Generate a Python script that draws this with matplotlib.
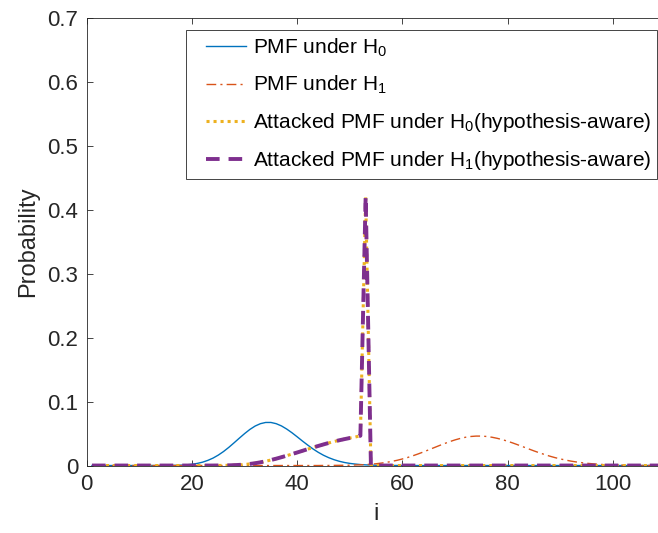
from matplotlib import pyplot as plt
from matplotlib.legend_handler import HandlerLine2D

# i = 1 .. 110
i_vals = list(range(1, 111))

pmf_h0 = [
    0, 0, 0, 0, 0, 0, 0, 0, 0, 0,
    0, 0, 0, 0, 0.0001, 0.0002, 0.0003, 0.0006, 0.0011, 0.0020,
    0.0033, 0.0052, 0.0080, 0.0116, 0.0163, 0.0219, 0.0284, 0.0355, 0.0428, 0.0499,
    0.0564, 0.0617, 0.0654, 0.0673, 0.0673, 0.0654, 0.0619, 0.0570, 0.0512, 0.0448,
    0.0382, 0.0319, 0.0259, 0.0206, 0.0160, 0.0122, 0.0091, 0.0066, 0.0047, 0.0033,
    0.0023, 0.0015, 0.0010, 0.0007, 0.0004, 0.0003, 0.0002, 0.0001, 0.0001, 0,
    0, 0, 0, 0, 0, 0, 0, 0, 0, 0,
    0, 0, 0, 0, 0, 0, 0, 0, 0, 0,
    0, 0, 0, 0, 0, 0, 0, 0, 0, 0,
    0, 0, 0, 0, 0, 0, 0, 0, 0, 0,
    0, 0, 0, 0, 0, 0, 0, 0, 0, 0,
]

pmf_h1 = [
    0, 0, 0, 0, 0, 0, 0, 0, 0, 0,
    0, 0, 0, 0, 0, 0, 0, 0, 0, 0,
    0, 0, 0, 0, 0, 0, 0, 0, 0, 0,
    0, 0, 0, 0, 0, 0, 0, 0, 0, 0,
    0, 0, 0, 0, 0.0001, 0.0001, 0.0002, 0.0003, 0.0004, 0.0005,
    0.0008, 0.0011, 0.0015, 0.0021, 0.0028, 0.0038, 0.0050, 0.0065, 0.0082, 0.0103,
    0.0126, 0.0153, 0.0182, 0.0213, 0.0246, 0.0279, 0.0312, 0.0344, 0.0374, 0.0401,
    0.0424, 0.0442, 0.0454, 0.0460, 0.0460, 0.0454, 0.0442, 0.0425, 0.0404, 0.0379,
    0.0351, 0.0321, 0.0290, 0.0259, 0.0228, 0.0199, 0.0172, 0.0146, 0.0123, 0.0103,
    0.0085, 0.0069, 0.0056, 0.0045, 0.0035, 0.0028, 0.0021, 0.0016, 0.0012, 0.0009,
    0.0007, 0.0005, 0.0004, 0.0003, 0.0002, 0.0001, 0.0001, 0.0001, 0, 0,
]

attacked_h0 = [
    0, 0, 0, 0, 0, 0, 0, 0, 0, 0,
    0, 0, 0, 0, 0, 0, 0, 0, 0, 0,
    0, 0, 0, 0, 0.0001, 0.0002, 0.0003, 0.0006, 0.0010, 0.0016,
    0.0025, 0.0036, 0.0050, 0.0067, 0.0086, 0.0107, 0.0130, 0.0154, 0.0179, 0.0204,
    0.0230, 0.0256, 0.0281, 0.0306, 0.0330, 0.0353, 0.0375, 0.0395, 0.0413, 0.0430,
    0.0445, 0.0465, 0.4210, 0, 0, 0, 0, 0, 0, 0,
    0, 0, 0, 0, 0, 0, 0, 0, 0, 0,
    0, 0, 0, 0, 0, 0, 0, 0, 0, 0,
    0, 0, 0, 0, 0, 0, 0, 0, 0, 0,
    0, 0, 0, 0, 0, 0, 0, 0, 0, 0,
    0, 0, 0, 0, 0, 0, 0, 0, 0, 0,
]

# attacked PMF is the same under both hypotheses
attacked_h1 = list(attacked_h0)

labels = [
    r'PMF under H$_{\mathregular{0}}$',
    r'PMF under H$_{\mathregular{1}}$',
    r'Attacked PMF under H$_{\mathregular{0}}$(hypothesis-aware)',
    r'Attacked PMF under H$_{\mathregular{1}}$(hypothesis-aware)',
]

x_ticks = [0, 20, 40, 60, 80, 100]
y_ticks = [0, 0.1, 0.2, 0.3, 0.4, 0.5, 0.6, 0.7]


def main():
    plt.rcParams['font.family'] = ['Liberation Sans', 'DejaVu Sans']
    plt.rcParams['mathtext.fontset'] = 'custom'
    plt.rcParams['mathtext.rm'] = 'Liberation Sans'

    fig = plt.figure(figsize=(6.58, 5.33), dpi=100)
    ax = fig.add_axes([0.1318, 0.1266, 0.8798, 0.8403])

    ax.plot(i_vals, pmf_h0, color='#0072BD', lw=1.0, label=labels[0])
    ax.plot(i_vals, pmf_h1, color='#D95319', lw=1.0, ls=(0, (7, 3, 1.5, 3)), label=labels[1])
    ax.plot(i_vals, attacked_h0, color='#EDB120', lw=2.2, ls=(0, (1, 1.3)), label=labels[2])
    ax.plot(i_vals, attacked_h1, color='#7E2F8E', lw=2.8, ls=(0, (3.5, 2.3)), label=labels[3])

    ax.set_xlim(0, 110)
    ax.set_ylim(0, 0.7)
    ax.set_xticks(x_ticks)
    ax.set_yticks(y_ticks)
    ax.set_yticklabels(['0', '0.1', '0.2', '0.3', '0.4', '0.5', '0.6', '0.7'])

    for s in ax.spines.values():
        s.set_color('#262626')
        s.set_linewidth(0.6)
    ax.tick_params(direction='in', length=4, width=0.6, colors='#262626',
                   labelsize=16, top=True, right=True, pad=6)

    ax.set_xlabel('i', fontsize=17, color='#262626', labelpad=6)
    ax.set_ylabel('Probability', fontsize=17, color='#262626', labelpad=6)

    leg = ax.legend(loc='upper left', bbox_to_anchor=(186 / 658, 1 - 30 / 533),
                    bbox_transform=fig.transFigure, borderaxespad=0,
                    fontsize=15, frameon=True, fancybox=False, handlelength=2.6,
                    handletextpad=0.3, labelspacing=0.72, borderpad=0.3,
                    handler_map={plt.Line2D: HandlerLine2D(xpad=0.65)})
    leg.get_frame().set_edgecolor('#262626')
    leg.get_frame().set_linewidth(0.6)
    leg.get_frame().set_alpha(1)

    plt.savefig('out.png', dpi=100)


main()
